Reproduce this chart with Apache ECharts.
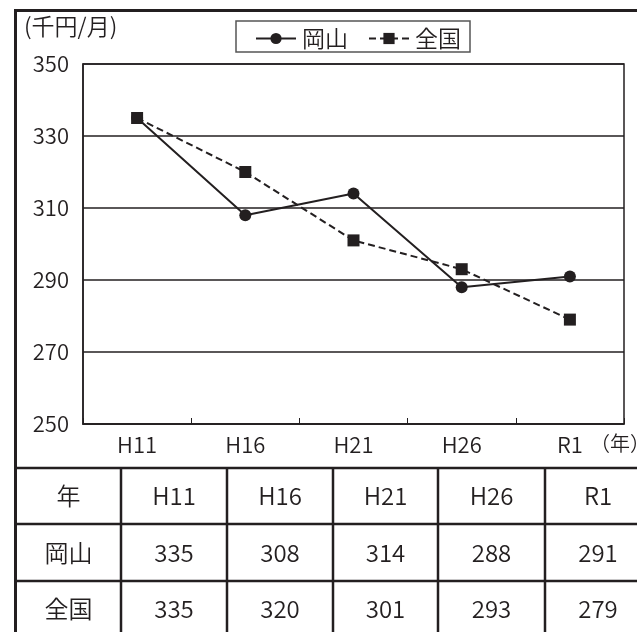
<!DOCTYPE html>
<html><head><meta charset="utf-8">
<script src="https://cdn.jsdelivr.net/npm/echarts@6/dist/echarts.min.js"></script>
<style>html,body{margin:0;padding:0;background:#fff}#c{width:637px;height:632px}</style>
</head><body><div id="c"></div>
<script>
// ---- data ----
const categories = ['H11', 'H16', 'H21', 'H26', 'R1'];
const okayama = [335, 308, 314, 288, 291];
const zenkoku = [335, 320, 301, 293, 279];
const seriesNames = ['岡山', '全国'];
const tableHeader = '年';
const yUnit = '(千円/月)';
const xUnit = '（年）';

// ---- layout / style ----
const INK = '#231f20';
const FONT = '"Noto Sans CJK JP", "Noto Sans", sans-serif';
const W = 350;
const colEdges = [16, 121, 227, 333, 438, 545, 651];
const rowEdges = [468, 524, 581, 637];

const chart = echarts.init(document.getElementById('c'), null, {renderer: 'canvas'});

const graphics = [];
graphics.push({type: 'rect', shape: {x: 15.5, y: 10.5, width: 700, height: 700},
  style: {fill: null, stroke: INK, lineWidth: 3}, z: 10});
graphics.push({type: 'rect', shape: {x: 236, y: 21, width: 234, height: 31},
  style: {fill: null, stroke: '#555', lineWidth: 1.5}, z: 10});
graphics.push({type: 'text', left: 24, top: 15, style: {text: yUnit, font: W + ' 23px ' + FONT, fill: INK}, z: 10});
graphics.push({type: 'text', left: 590, top: 433, style: {text: xUnit, font: W + ' 20px ' + FONT, fill: INK}, z: 10});
rowEdges.slice(0, 3).forEach(y => graphics.push({type: 'line', shape: {x1: 16, y1: y, x2: 700, y2: y},
  style: {stroke: INK, lineWidth: 2.5}, z: 10}));
colEdges.slice(1, 6).forEach(x => graphics.push({type: 'line', shape: {x1: x, y1: rowEdges[0], x2: x, y2: 700},
  style: {stroke: INK, lineWidth: 2.5}, z: 10}));
const rows = [[tableHeader].concat(categories), [seriesNames[0]].concat(okayama.map(String)), [seriesNames[1]].concat(zenkoku.map(String))];
rows.forEach((r, ri) => {
  const cy = (rowEdges[ri] + rowEdges[ri + 1]) / 2;
  r.forEach((t, ci) => {
    const cx = (colEdges[ci] + colEdges[ci + 1]) / 2;
    graphics.push({type: 'text', x: cx, y: cy,
      style: {text: t, font: W + ' 24px ' + FONT, fill: INK, align: 'center', verticalAlign: 'middle'}, z: 10});
  });
});

chart.setOption({
  animation: false,
  backgroundColor: '#fff',
  textStyle: {fontFamily: FONT},
  grid: {left: 83, top: 64, right: 13, bottom: 208, show: true, borderColor: INK, borderWidth: 1.5},
  legend: {
    left: 250, top: 22, itemWidth: 40, itemHeight: 14, itemGap: 20,
    textStyle: {fontSize: 23, fontWeight: W, color: INK, fontFamily: FONT, padding: [0, 0, 0, 1]},
    data: seriesNames
  },
  xAxis: {
    type: 'category', data: categories, boundaryGap: true,
    axisLine: {lineStyle: {color: INK, width: 1.5}},
    axisTick: {show: true, inside: true, length: 6, lineStyle: {color: INK, width: 1}},
    axisLabel: {fontSize: 22, fontWeight: W, color: INK, margin: 10, fontFamily: FONT}
  },
  yAxis: {
    type: 'value', min: 250, max: 350, interval: 20,
    axisLine: {show: true, lineStyle: {color: INK, width: 1.5}},
    axisTick: {show: false},
    axisLabel: {fontSize: 22, fontWeight: W, color: INK, margin: 14, fontFamily: FONT},
    splitLine: {lineStyle: {color: INK, width: 1.5}}
  },
  series: [
    {name: seriesNames[0], type: 'line', data: okayama, symbol: 'circle', symbolSize: 12,
      lineStyle: {color: INK, width: 2}, itemStyle: {color: INK}, z: 3},
    {name: seriesNames[1], type: 'line', data: zenkoku, symbol: 'rect', symbolSize: 12,
      lineStyle: {color: INK, width: 2, type: [7, 4]}, itemStyle: {color: INK}, z: 3}
  ],
  graphic: graphics
});
</script></body></html>
